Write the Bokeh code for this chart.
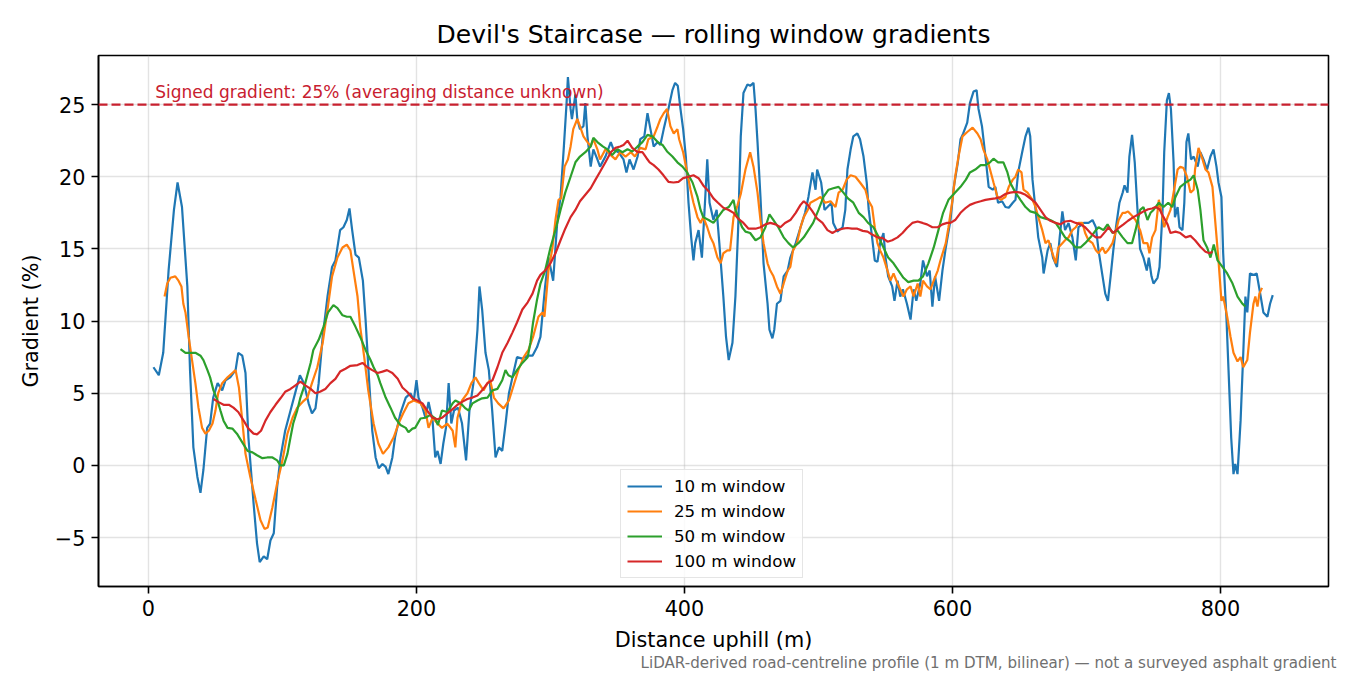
from bokeh.plotting import figure
from bokeh.models import Range1d, Span, Label, Title, FixedTicker, CustomJSTickFormatter
from bokeh.embed import file_html
from bokeh.resources import INLINE

# (distance uphill m, gradient %), one list per window
win_10 = [
    (3.7, 6.8), (7.7, 6.25), (11, 7.8), (15, 13.5), (19, 17.7), (21.7, 19.6), (25, 17.9), (29, 12.4),
    (31, 6.6), (33.5, 1.25), (36.5, -0.8), (38.8, -1.9), (41, -0.3), (43.8, 2.6), (46, 2.9), (48.3, 4.7),
    (51.6, 5.7), (55, 5.2), (57.5, 5.9), (61, 6.1), (65, 6.6), (67, 7.8), (70, 7.6), (72.4, 6.4),
    (74.6, 1.9), (78.4, -2.6), (81, -5.4), (83, -6.7), (86, -6.3), (88.6, -6.5), (91, -5.2), (93.5, -4.7),
    (96, -1.5), (98.5, 0.55), (102, 2.4), (106, 3.8), (110, 5.2), (113, 6.25), (116, 5.7), (119.5, 4.3),
    (122, 3.6), (124.6, 3.95), (127, 5.7), (130, 8.9), (133.6, 11.7), (137, 13.75), (139.5, 14.2), (143, 16.3),
    (145.5, 16.5), (148, 17.0), (150, 17.8), (152, 16.3), (154.5, 14.6), (157, 14.4), (160, 12.8), (162, 10.1),
    (164.5, 6.1), (167, 2.4), (169.5, 0.55), (171.8, -0.2), (174.6, 0.1), (177, -0.1), (179, -0.6), (182, 0.55),
    (184, 1.95), (188, 3.6), (192, 4.7), (195.5, 5.0), (198, 4.5), (200, 5.9), (201.5, 4.7), (204.5, 4.0),
    (206.7, 3.3), (209, 4.4), (212, 3.1), (214, 0.55), (215.7, 1.0), (218, 0.1), (220, 1.5), (222, 2.6),
    (224, 5.7), (226, 2.9), (228, 3.8), (231, 4.0), (234, 2.9), (237, 0.35), (239.5, 3.8), (242.5, 5.7),
    (245.5, 9.4), (247, 12.4), (249, 10.8), (251.5, 7.8), (254, 6.6), (256.5, 3.8), (259, 0.55), (261.5, 1.25),
    (264, 1.0), (266.5, 2.9), (269, 5.0), (271.6, 6.1), (275, 7.5), (279, 7.4), (283, 7.6), (286.6, 7.6),
    (290, 8.2), (292.5, 8.9), (296, 12.4), (298.5, 14.4), (302, 12.8), (305, 16.8), (307.5, 18.6), (310, 22.1),
    (312, 25.1), (313, 26.9), (315, 24.7), (316, 24.0), (318.6, 25.7), (320, 24.0), (322, 23.3), (324.6, 23.5),
    (326, 25.1), (327.6, 22.8), (330, 20.7), (332, 21.9), (335, 21.2), (337, 20.7), (341, 21.4), (345, 22.4),
    (347, 21.9), (350.7, 21.7), (354.5, 21.2), (356.7, 20.3), (359, 21.2), (362, 20.5), (365, 21.4), (367, 22.6),
    (370, 22.8), (372.4, 24.4), (374.6, 23.3), (377, 22.1), (380, 22.4), (382, 22.2), (384.5, 23.3), (388, 24.7),
    (391, 26.0), (393, 26.5), (395, 26.3), (397, 24.7), (399, 23.3), (401, 21.4), (403, 18.2), (405, 15.8),
    (406.7, 14.2), (408, 15.4), (410.5, 16.3), (413, 14.4), (415, 17.7), (417, 21.2), (418.7, 18.2), (421.6, 17.0),
    (424, 17.7), (426, 15.4), (429, 11.7), (431, 8.9), (433, 7.3), (435.8, 8.5), (438, 11.7), (440, 16.3),
    (442, 22.8), (444, 25.8), (447, 26.4), (449, 26.3), (451.5, 26.5), (453, 24.7), (454.5, 22.4), (456.7, 18.6),
    (459, 14.0), (462, 11.2), (463.4, 9.4), (465.6, 8.8), (467, 9.4), (469, 11.2), (471.6, 11.4), (474, 13.1),
    (477, 13.5), (479, 14.4), (483, 15.4), (486.6, 16.5), (490, 17.5), (492.5, 18.6), (495.5, 20.3), (497.8, 19.1),
    (499, 20.5), (502, 19.6), (504.5, 17.7), (506.7, 17.9), (509.7, 18.2), (511, 16.8), (514, 16.2), (518, 16.5),
    (520, 17.7), (521.6, 20.5), (524, 21.9), (526, 22.8), (529, 23.0), (531, 22.6), (533.6, 21.4), (536, 19.6),
    (537.5, 17.7), (540, 15.8), (542, 14.2), (544, 14.1), (546, 15.4), (548.5, 16.1), (550, 14.4), (552, 13.1),
    (555, 12.4), (556.7, 11.4), (559, 12.8), (561, 11.7), (563, 12.2), (566, 11.2), (568.7, 10.1), (571, 12.2),
    (573, 11.4), (576, 12.6), (578, 14.2), (581, 13.1), (583, 13.5), (585, 11.0), (587, 13.1), (590, 11.4),
    (592.5, 13.5), (595, 15.1), (598.5, 17.0), (601, 19.3), (604, 21.0), (606, 22.6), (608, 23.0), (611, 23.75),
    (613, 25.1), (615.7, 25.9), (618, 26.0), (619.4, 24.7), (622, 23.5), (624.6, 21.4), (627, 19.3), (630, 19.1),
    (632, 19.3), (634, 18.2), (637, 18.3), (639.5, 17.9), (642, 17.85), (645, 18.2), (647, 18.4), (649, 20.3),
    (652, 21.7), (654.5, 22.8), (656.7, 23.4), (658, 22.8), (659.7, 19.8), (662, 17.7), (664, 15.8), (667, 14.4),
    (668, 13.3), (671, 14.9), (673, 15.4), (675, 14.4), (678, 13.75), (680, 15.8), (682, 17.6), (684, 16.3),
    (686.6, 16.8), (689.5, 15.8), (692, 14.2), (694, 16.5), (698, 16.8), (701.5, 16.8), (704.5, 17.0), (707, 16.5),
    (709, 14.9), (712, 13.1), (714, 11.9), (716, 11.4), (718, 13.1), (720, 14.9), (722, 16.5), (724.6, 18.2),
    (727, 18.9), (728.4, 19.4), (730.6, 18.9), (732, 21.4), (734, 22.9), (736, 21.0), (738, 17.8), (740, 15.0),
    (742.5, 14.4), (745, 13.5), (746.5, 14.4), (748.5, 13.1), (750, 12.6), (753, 13.0), (754.5, 13.75), (756.7, 17.5),
    (758, 21.7), (760, 25.3), (761.5, 25.8), (763, 24.7), (765, 21.0), (766, 17.2), (768, 17.9), (769.4, 16.5),
    (771.6, 16.3), (773, 18.2), (774.6, 22.4), (776, 23.0), (778, 21.2), (780, 21.4), (783, 20.7), (785, 21.7),
    (787.3, 21.2), (790, 20.5), (792.5, 21.4), (794.8, 21.9), (797, 20.7), (798.5, 19.6), (800.7, 18.6), (802, 14.7),
    (804.5, 10.1), (806, 6.6), (808, 1.9), (809.7, -0.6), (811, 0.1), (812.7, -0.6), (815, 3.1), (817, 7.8),
    (818.6, 11.7), (820, 10.6), (822, 13.3), (824.6, 13.2), (827, 13.3), (830, 11.7), (832, 10.6), (835, 10.3),
    (837, 11.2), (839, 11.8),
]

win_25 = [
    (12, 11.7), (14, 12.6), (16.4, 13.0), (20, 13.1), (22.4, 12.8), (24.6, 12.4), (26, 11.2), (27.6, 10.6),
    (30, 8.9), (32.8, 7.1), (35, 5.7), (37.3, 4.0), (40, 2.6), (42.5, 2.2), (45, 2.4), (47.8, 2.9),
    (50, 3.8), (52, 5.0), (55, 5.7), (59, 6.1), (62.6, 6.4), (65, 6.6), (67.5, 5.4), (70, 3.1),
    (72.4, 0.8), (76, -0.8), (80, -2.4), (83.6, -3.8), (86.6, -4.4), (89, -4.3), (92.5, -2.9), (96, -1.25),
    (100, 0.35), (103.7, 2.2), (107.5, 3.3), (111, 4.0), (115, 4.4), (118.6, 4.7), (122, 5.7), (126, 6.8),
    (130, 8.5), (133.6, 10.8), (137, 13.1), (141, 14.4), (144.8, 15.1), (148, 15.3), (150.7, 14.9), (153, 13.5),
    (156, 11.7), (158, 9.6), (161, 7.5), (164, 5.2), (168, 2.9), (171.6, 1.5), (175, 0.8), (179, 1.25),
    (183, 1.95), (186.6, 2.9), (190, 3.6), (194, 4.3), (198, 4.5), (203, 4.3), (206.7, 3.8), (209, 2.6),
    (212, 3.3), (215.7, 2.9), (219, 2.6), (223, 2.9), (227, 2.4), (229, 1.25), (230.6, 3.3), (234, 4.5),
    (238, 5.0), (241, 5.7), (244, 6.1), (246.5, 5.7), (250, 5.2), (253, 5.7), (255, 5.9), (257.8, 4.7),
    (261, 4.3), (265, 3.95), (269, 4.5), (272, 5.4), (276, 6.6), (280, 7.5), (283.6, 8.0), (287, 8.9),
    (291, 10.3), (294, 10.6), (295.5, 10.3), (298.5, 13.5), (301.5, 15.1), (303.7, 17.0), (306, 18.4), (308, 18.5),
    (310.5, 20.7), (313, 21.2), (315, 22.1), (317, 23.3), (320, 24.0), (322, 23.5), (324.6, 22.8), (327.6, 22.4),
    (330, 22.1), (332, 22.6), (335, 21.9), (337, 21.2), (341, 21.9), (345, 21.5), (348.5, 21.2), (352, 21.7),
    (356, 21.4), (360, 21.7), (363, 21.4), (367, 22.0), (371, 21.9), (373, 22.6), (377, 22.8), (380, 23.5),
    (382, 24.0), (384.5, 24.4), (387, 24.7), (389.5, 23.5), (392, 23.0), (394.7, 23.3), (396, 22.6), (399, 21.7),
    (402, 20.3), (404.5, 19.1), (406.7, 18.2), (409.7, 17.2), (412, 16.8), (414, 17.2), (417, 16.5), (419.4, 15.8),
    (421.6, 15.4), (424.6, 14.4), (427, 14.0), (429, 14.7), (432, 14.9), (434, 14.9), (436.6, 17.2), (439.5, 18.0),
    (442, 18.8), (445.5, 20.5), (449, 21.7), (451.5, 20.7), (454.5, 18.9), (456.7, 17.0), (459, 15.4), (462, 14.0),
    (464, 13.5), (466.4, 13.1), (469, 12.4), (471.6, 11.9), (474, 12.6), (477, 13.5), (479, 13.75), (481, 14.9),
    (484, 15.4), (486.6, 16.5), (489, 17.2), (492, 17.7), (494, 18.2), (498, 18.4), (501.5, 18.6), (505, 18.2),
    (509, 18.3), (512.7, 17.9), (515, 18.9), (518, 19.1), (521, 19.8), (524, 20.1), (527.6, 20.0), (531, 19.6),
    (535, 19.1), (537, 18.4), (540, 17.9), (542, 16.5), (544, 15.4), (546, 14.9), (548.5, 14.4), (551.5, 13.5),
    (553.7, 12.8), (556, 13.3), (559, 12.6), (561, 12.2), (563.4, 11.7), (566, 12.2), (568.7, 12.4), (571, 11.7),
    (574, 12.6), (576, 11.7), (578, 12.8), (581, 12.4), (583.6, 12.2), (586, 12.8), (589, 13.5), (591, 14.2),
    (595, 15.4), (597, 16.5), (600, 18.4), (602, 20.0), (604.5, 21.4), (607.5, 22.8), (611, 23.1), (615, 23.4),
    (618.6, 23.0), (621, 22.6), (623, 21.9), (626, 21.2), (628, 20.5), (630.6, 19.6), (633.6, 18.6), (636, 18.4),
    (639.5, 18.6), (642, 19.3), (645, 19.8), (647, 20.0), (649, 20.5), (651.5, 20.3), (653, 19.1), (656, 18.9),
    (659.7, 18.4), (662, 17.9), (664, 17.2), (667, 16.3), (669.4, 15.4), (671.6, 15.6), (674.6, 14.7), (677, 14.0),
    (679, 15.1), (682, 15.4), (684, 15.6), (686.6, 15.8), (689.5, 16.3), (692, 16.5), (694, 16.8), (697, 16.8),
    (699, 16.1), (701.5, 15.6), (704.5, 15.4), (707, 14.9), (709, 14.7), (712, 15.1), (714, 14.7), (716, 14.9),
    (719.4, 15.4), (721.6, 16.1), (724, 17.0), (727, 17.5), (729, 17.5), (731, 17.6), (734, 17.3), (736.6, 17.0),
    (740, 16.3), (742.5, 15.4), (745.5, 15.4), (747, 14.7), (749, 15.8), (751.5, 16.3), (754, 18.4), (756.7, 17.2),
    (758, 16.5), (760.5, 17.2), (762.7, 17.7), (765, 18.9), (768, 20.5), (770, 20.7), (772.4, 20.6), (775, 20.0),
    (777.6, 18.9), (780, 19.1), (781, 20.5), (783.6, 22.0), (786.6, 21.2), (788.8, 20.5), (791, 20.3), (794, 19.3),
    (796, 17.0), (798.5, 14.2), (800.7, 11.4), (802, 11.7), (805, 10.3), (807.5, 8.9), (809.7, 7.8), (812.7, 7.2),
    (815, 7.5), (817, 6.8), (820, 7.3), (822, 9.2), (824.6, 11.2), (826, 11.7), (827.6, 11.0), (829, 11.9),
    (831, 12.3),
]

win_50 = [
    (23.9, 8.05), (27.6, 7.8), (31, 7.8), (35, 7.8), (38.8, 7.6), (41, 7.3), (44, 6.6), (46, 6.1),
    (48.5, 5.2), (51.5, 4.5), (53.7, 3.8), (56, 3.1), (59, 2.6), (62.6, 2.55), (66, 2.2), (70, 1.6),
    (74, 1.0), (77.6, 0.9), (81, 0.7), (85, 0.5), (88.6, 0.55), (92.5, 0.55), (96, 0.35), (98.5, 0.0),
    (101, 0.0), (103.7, 0.8), (106, 1.95), (108, 2.9), (111, 3.8), (113.4, 4.7), (117, 5.7), (121, 7.1),
    (123, 8.0), (127, 8.7), (130.6, 9.6), (134, 10.6), (138, 11.1), (141, 10.9), (144.8, 10.4), (148, 10.3),
    (150.7, 10.3), (154.5, 9.6), (158, 8.9), (162, 8.0), (165.7, 7.3), (168, 6.8), (171, 6.25), (173, 5.7),
    (177, 4.7), (180.6, 4.0), (184, 3.3), (188, 2.8), (192, 2.6), (194, 2.3), (197, 2.55), (199, 2.6),
    (203, 3.25), (206.7, 3.3), (210.4, 3.5), (214, 3.25), (216, 2.8), (219, 3.8), (223, 3.7), (227, 4.3),
    (229, 4.5), (233, 4.3), (236.6, 3.95), (239, 3.8), (241.8, 4.3), (245.5, 4.5), (249, 4.65), (253, 4.7),
    (256.7, 5.2), (260.4, 5.3), (264, 5.9), (266.4, 6.6), (268.6, 6.25), (271.6, 6.1), (275, 6.6), (279, 7.1),
    (283, 7.5), (285, 8.5), (287, 9.9), (290, 11.5), (292.5, 12.6), (296, 13.5), (300, 15.1), (303.7, 16.3),
    (307.5, 17.7), (311, 18.9), (315, 20.0), (318.6, 21.0), (322, 21.4), (326, 21.7), (330, 22.1), (332, 22.7),
    (335, 22.4), (339, 22.1), (342.5, 21.9), (346, 21.5), (350, 21.9), (353.7, 21.7), (357.5, 21.9), (361, 21.75),
    (365, 22.1), (368.6, 22.4), (372.4, 22.9), (376, 22.8), (380, 22.4), (383.6, 22.2), (387, 21.75), (391, 21.4),
    (394.7, 21.0), (398.5, 20.7), (402, 20.3), (406, 19.6), (409.7, 18.6), (412, 17.7), (414, 17.2), (418, 17.0),
    (421.6, 16.8), (425, 17.2), (429, 17.7), (433, 17.9), (436.6, 18.4), (438, 17.7), (440, 17.2), (443, 16.5),
    (445.5, 16.2), (449, 16.1), (453, 15.6), (456.7, 15.8), (460.4, 16.5), (463.4, 17.4), (466.4, 17.0), (470, 16.5),
    (474, 15.8), (477.6, 15.4), (481, 15.1), (485, 15.4), (489, 15.8), (492.5, 16.3), (496, 16.8), (500, 17.7),
    (503.7, 18.6), (507.5, 19.1), (511, 19.2), (515, 19.3), (518.6, 18.9), (522, 18.5), (526, 18.2), (530, 17.5),
    (533.6, 17.2), (537, 16.8), (541, 16.5), (545, 15.8), (548.5, 15.1), (552, 14.4), (556, 14.0), (559.7, 13.5),
    (563.4, 13.0), (567, 12.7), (571, 12.8), (574.6, 12.8), (578, 13.1), (582, 14.0), (586, 15.1), (589.5, 16.3),
    (593, 17.5), (597, 18.4), (602, 18.9), (606, 19.3), (610, 19.8), (613, 20.3), (617, 20.5), (621, 20.8),
    (624.6, 20.8), (628, 21.0), (630.6, 21.25), (634, 21.0), (638, 21.0), (641, 20.3), (643, 19.6), (647, 18.9),
    (650.7, 18.4), (654.5, 17.9), (658, 17.6), (662, 17.5), (665.7, 17.2), (669.4, 17.1), (673, 17.0), (677, 16.8),
    (680.6, 16.3), (684, 15.8), (688, 15.5), (692, 15.1), (695.5, 15.1), (699, 15.4), (703, 15.8), (707, 16.3),
    (709, 16.5), (712.7, 16.3), (715.7, 16.7), (719.4, 16.1), (723, 16.3), (727, 15.8), (730.6, 15.4), (734, 15.4),
    (736.6, 16.3), (740, 17.7), (742.5, 17.9), (745.5, 17.0), (747.8, 17.5), (750, 17.7), (754, 18.2), (757.5, 17.9),
    (761, 18.2), (764, 17.9), (766.4, 18.6), (770, 19.3), (774, 19.6), (777.6, 19.8), (780, 20.1), (783, 19.1),
    (785, 17.7), (787.3, 15.6), (790, 15.1), (792.5, 14.4), (795, 15.3), (797.8, 14.2), (801.5, 13.75), (805, 13.3),
    (809, 12.6), (812.7, 11.7), (816.4, 11.2), (818.6, 11.0),
]

win_100 = [
    (48.5, 4.6), (52, 4.4), (56, 4.2), (60, 4.2), (63.4, 4.0), (67, 3.7), (71, 3.1), (74.6, 2.55),
    (78.4, 2.2), (81, 2.15), (84, 2.4), (87.3, 3.1), (91, 3.7), (94.8, 4.2), (98.5, 4.65), (102, 5.1),
    (106, 5.3), (109.7, 5.55), (113.4, 5.8), (117, 5.55), (121, 5.3), (124.6, 5.0), (128, 5.1), (132, 5.3),
    (135.8, 5.7), (139.5, 6.0), (143, 6.5), (147, 6.7), (150.7, 6.9), (156, 6.95), (159.7, 7.1), (163.4, 6.8),
    (167, 6.6), (171, 6.4), (174.6, 6.5), (178, 6.6), (182, 6.4), (186, 6.0), (189.5, 5.4), (193, 5.1),
    (197, 4.65), (200.7, 4.5), (204.5, 4.3), (208, 3.8), (212, 3.3), (215.7, 3.2), (219, 3.3), (223, 3.6),
    (227, 3.9), (230.6, 4.2), (234, 4.4), (238, 4.6), (241.8, 4.7), (245.5, 4.85), (249, 5.2), (253, 5.7),
    (256.7, 5.9), (260.4, 6.8), (264, 7.8), (268, 8.5), (271.6, 9.2), (275, 9.9), (279, 10.8), (283, 11.3),
    (286.6, 11.9), (290, 12.8), (292.5, 13.2), (296, 13.5), (300, 14.0), (303.7, 14.7), (307.5, 15.6), (311, 16.4),
    (315, 17.2), (318.6, 17.7), (322, 18.3), (326, 18.75), (330, 19.2), (333.6, 19.8), (337, 20.35), (341, 21.0),
    (345, 21.7), (348.5, 22.0), (352, 22.1), (354.5, 22.2), (357.5, 22.5), (361, 22.0), (365, 21.7), (368.6, 21.7),
    (371.6, 21.3), (374, 21.0), (377, 20.8), (380.6, 20.5), (384.3, 20.1), (388, 19.65), (391.8, 19.6), (395.5, 19.65),
    (399, 19.9), (403, 20.0), (406.7, 20.1), (410.5, 19.9), (414, 19.4), (418, 19.0), (421.6, 18.5), (425, 18.2),
    (429, 17.85), (433, 17.7), (436.6, 17.5), (440, 17.1), (444, 16.8), (447.8, 16.4), (453, 16.4), (456.7, 16.5),
    (460.4, 16.7), (464, 16.8), (468, 16.7), (471.6, 16.5), (475, 16.8), (479, 17.0), (483, 17.5), (486.6, 18.05),
    (489, 18.3), (492, 18.05), (495.5, 17.6), (499, 17.1), (503, 16.8), (506.7, 16.3), (510.4, 16.1), (514, 16.3),
    (518, 16.4), (521.6, 16.45), (525, 16.4), (529, 16.4), (533, 16.25), (536.6, 16.2), (540, 16.0), (544, 15.8),
    (548, 15.75), (551.5, 15.5), (555, 15.6), (559, 15.8), (562.7, 16.1), (566, 16.45), (570, 16.8), (574, 16.9),
    (577.6, 16.8), (581, 16.7), (585, 16.5), (589, 16.5), (592.5, 16.7), (596, 16.8), (598.5, 16.8), (602, 17.0),
    (606, 17.5), (610, 17.85), (613, 18.05), (617, 18.2), (621, 18.3), (624.6, 18.4), (628, 18.45), (632, 18.5),
    (636, 18.6), (639.5, 18.8), (643, 18.9), (647, 18.95), (650.7, 18.9), (654.5, 18.75), (658, 18.5), (662, 18.2),
    (665.7, 17.7), (669.4, 17.2), (673, 16.95), (677, 16.8), (680.6, 16.7), (684, 16.9), (688, 16.95), (692, 16.8),
    (695.5, 16.7), (699, 16.5), (703, 16.1), (707, 15.8), (710.4, 15.8), (714, 16.2), (716.4, 16.5), (720, 16.1),
    (724, 16.45), (727.6, 16.7), (731, 16.95), (735, 17.2), (739, 17.4), (742.5, 17.6), (746, 17.75), (749, 17.8),
    (751.5, 17.9), (754.5, 17.75), (757.5, 17.2), (760.5, 16.7), (762.7, 16.1), (766.4, 16.2), (770, 16.1), (774, 15.8),
    (777.6, 15.9), (781, 15.6), (785, 15.15), (788.8, 14.8), (791.8, 14.7), (794, 14.8),
]

series_labels = ["10 m window", "25 m window", "50 m window", "100 m window"]
series_colors = ["#1f77b4", "#ff7f0e", "#2ca02c", "#d62728"]

signed_gradient = 25
x_ticks = [0, 200, 400, 600, 800]
y_ticks = [-5, 0, 5, 10, 15, 20, 25]

FONT = "DejaVu Sans"
NOTE_RED = "#c8202f"

p = figure(width=1350, height=675, output_backend="svg", toolbar_location=None, tools="",
           x_range=Range1d(-37.3, 880.6), y_range=Range1d(-8.39, 28.4),
           min_border_left=98, min_border_right=22, min_border_top=55, min_border_bottom=89,
           background_fill_color="white", border_fill_color="white")

p.title.text = "Devil's Staircase \u2014 rolling window gradients"
p.title.align = "center"
p.title.text_font = FONT
p.title.text_font_size = "25px"
p.title.text_font_style = "normal"
p.title.text_color = "black"
p.title.standoff = 13

# gradient lines
for pts, lab, col in zip([win_10, win_25, win_50, win_100], series_labels, series_colors):
    xs = [d for d, g in pts]
    ys = [g for d, g in pts]
    p.line(xs, ys, line_color=col, line_width=2.2, legend_label=lab)

# signed 25 % reference
p.add_layout(Span(location=signed_gradient, dimension="width", line_color=NOTE_RED,
                  line_width=2.2, line_dash="9 4"))
p.add_layout(Label(x=5, y=signed_gradient, y_offset=3, text_baseline="bottom",
                   text="Signed gradient: 25% (averaging distance unknown)",
                   text_font=FONT, text_font_size="17px", text_color=NOTE_RED))

# axes
minus_fmt = CustomJSTickFormatter(code="return tick < 0 ? '\u2212' + (-tick) : String(tick);")
p.xaxis.ticker = FixedTicker(ticks=x_ticks)
p.yaxis.ticker = FixedTicker(ticks=y_ticks)
p.yaxis.formatter = minus_fmt
p.xaxis.axis_label = "Distance uphill (m)"
p.yaxis.axis_label = "Gradient (%)"
for ax in (p.xaxis, p.yaxis):
    ax.axis_label_text_font = FONT
    ax.axis_label_text_font_size = "20.8px"
    ax.axis_label_text_font_style = "normal"
    ax.axis_label_text_color = "black"
    ax.axis_label_standoff = 9
    ax.major_label_text_font = FONT
    ax.major_label_text_font_size = "20.8px"
    ax.major_label_text_color = "black"
    ax.major_label_standoff = 6
    ax.major_tick_out = 7
    ax.major_tick_in = 0
    ax.major_tick_line_width = 1.6
    ax.minor_tick_line_color = None
    ax.axis_line_width = 1.6
    ax.axis_line_color = "black"

# footnote under the axis, right aligned
p.add_layout(Title(text="LiDAR-derived road-centreline profile (1 m DTM, bilinear) \u2014 not a surveyed asphalt gradient",
                   align="right", offset=-8, standoff=-5, text_font=FONT, text_font_size="15.1px",
                   text_font_style="normal", text_color="#707070"), "below")

p.outline_line_color = "black"
p.outline_line_width = 1.6
p.outline_line_alpha = 1

p.xgrid.ticker = FixedTicker(ticks=x_ticks)
p.ygrid.ticker = FixedTicker(ticks=y_ticks)
p.grid.grid_line_color = "#b0b0b0"
p.grid.grid_line_alpha = 0.35
p.grid.grid_line_width = 1.4

# legend
lg = p.legend[0]
lg.location = (522, 8)
lg.margin = 0
lg.padding = 6
lg.spacing = 5
lg.glyph_width = 35
lg.glyph_height = 20
lg.label_height = 20
lg.label_standoff = 12
lg.label_text_font = FONT
lg.label_text_font_size = "16.7px"
lg.label_text_color = "black"
lg.border_line_color = "#cccccc"
lg.border_line_width = 1.4
lg.background_fill_alpha = 0.8

open("out.html", "w").write(file_html(p, INLINE))
